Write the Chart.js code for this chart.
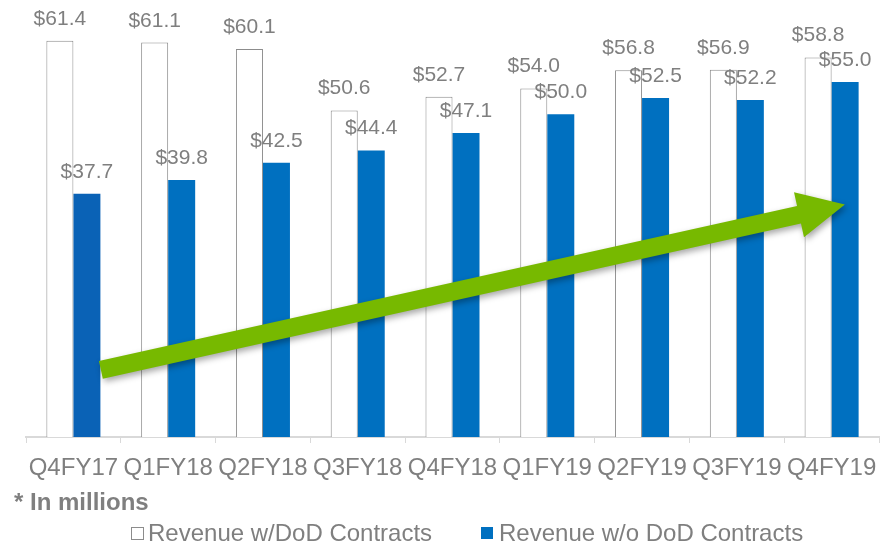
<!DOCTYPE html>
<html>
<head>
<meta charset="utf-8">
<script src="https://cdn.jsdelivr.net/npm/chart.js@4/dist/chart.umd.min.js"></script>
<style>
html,body{margin:0;padding:0;background:#fff;}
#wrap{position:relative;width:882px;height:547px;}
</style>
</head>
<body>
<div id="wrap"><canvas id="c"></canvas></div>
<script>
const categories = ['Q4FY17','Q1FY18','Q2FY18','Q3FY18','Q4FY18','Q1FY19','Q2FY19','Q3FY19','Q4FY19'];
const withDoD = [61.4, 61.1, 60.1, 50.6, 52.7, 54.0, 56.8, 56.9, 58.8];
const withoutDoD = [37.7, 39.8, 42.5, 44.4, 47.1, 50.0, 52.5, 52.2, 55.0];
const seriesNames = ['Revenue w/DoD Contracts', 'Revenue w/o DoD Contracts'];
const footnote = '* In millions';
// trend arrow in data units: [category index, value]
const arrowStart = [0.29, 10.4];
const arrowEnd = [8.14, 36.0];

const FONT = '"Liberation Sans", Arial, sans-serif';
const GRAY = '#7f7f7f';
const BLUE = '#0070c0';
const blueColors = withoutDoD.map((v, i) => i === 0 ? '#0a62b6' : BLUE);

const labelsPlugin = {
  id: 'valueLabels',
  afterDatasetsDraw(chart) {
    const ctx = chart.ctx;
    ctx.save();
    ctx.font = '21px ' + FONT;
    ctx.fillStyle = GRAY;
    ctx.textAlign = 'center';
    ctx.textBaseline = 'alphabetic';
    chart.data.datasets.forEach((ds, di) => {
      const meta = chart.getDatasetMeta(di);
      meta.data.forEach((bar, i) => {
        ctx.fillText('$' + ds.data[i].toFixed(1), bar.x, bar.y - 16);
      });
    });
    ctx.restore();
  }
};

const arrowPlugin = {
  id: 'trendArrow',
  afterDraw(chart) {
    const xs = chart.scales.x, ys = chart.scales.y;
    const x0 = xs.getPixelForValue(arrowStart[0]), y0 = ys.getPixelForValue(arrowStart[1]);
    const x1 = xs.getPixelForValue(arrowEnd[0]), y1 = ys.getPixelForValue(arrowEnd[1]);
    const dx = x1 - x0, dy = y1 - y0, len = Math.hypot(dx, dy);
    const ux = dx / len, uy = dy / len, nx = -uy, ny = ux;
    const shaftHalf = 9, headLen = 47, headHalf = 23;
    const bx = x1 - ux * headLen, by = y1 - uy * headLen;
    const ctx = chart.ctx;
    ctx.save();
    ctx.shadowColor = 'rgba(0,0,0,0.35)';
    ctx.shadowBlur = 6;
    ctx.shadowOffsetX = 2;
    ctx.shadowOffsetY = 3;
    ctx.fillStyle = '#77b900';
    ctx.beginPath();
    ctx.moveTo(x0 + nx * shaftHalf, y0 + ny * shaftHalf);
    ctx.lineTo(bx + nx * shaftHalf, by + ny * shaftHalf);
    ctx.lineTo(bx + nx * headHalf, by + ny * headHalf);
    ctx.lineTo(x1, y1);
    ctx.lineTo(bx - nx * headHalf, by - ny * headHalf);
    ctx.lineTo(bx - nx * shaftHalf, by - ny * shaftHalf);
    ctx.lineTo(x0 - nx * shaftHalf, y0 - ny * shaftHalf);
    ctx.closePath();
    ctx.fill();
    ctx.restore();
  }
};

const footerPlugin = {
  id: 'footer',
  afterDraw(chart) {
    const ctx = chart.ctx;
    ctx.save();
    ctx.fillStyle = GRAY;
    ctx.textBaseline = 'middle';
    ctx.textAlign = 'left';
    ctx.font = 'bold 24px ' + FONT;
    ctx.fillText(footnote, 14, 503);
    // legend
    ctx.font = '24px ' + FONT;
    const ly = 534;
    ctx.fillStyle = '#fff';
    ctx.fillRect(131.5, ly - 6.5, 12, 12);
    ctx.strokeStyle = '#8c8c8c';
    ctx.lineWidth = 1;
    ctx.strokeRect(131.5, ly - 6.5, 12, 12);
    ctx.fillStyle = GRAY;
    ctx.fillText(seriesNames[0], 148, ly);
    ctx.fillStyle = BLUE;
    ctx.fillRect(481, ly - 7, 12, 12);
    ctx.fillStyle = GRAY;
    ctx.fillText(seriesNames[1], 499, ly);
    ctx.restore();
  }
};

new Chart(document.getElementById('c'), {
  type: 'bar',
  data: {
    labels: categories,
    datasets: [
      { label: seriesNames[0], data: withDoD, backgroundColor: '#ffffff', borderColor: '#8c8c8c', borderWidth: 1,
        categoryPercentage: 0.57, barPercentage: 1.0 },
      { label: seriesNames[1], data: withoutDoD, backgroundColor: blueColors, borderWidth: 0,
        categoryPercentage: 0.57, barPercentage: 1.0 }
    ]
  },
  options: {
    responsive: true,
    maintainAspectRatio: false,
    animation: false,
    layout: { padding: { left: 26, right: 3, top: 0, bottom: 0 } },
    plugins: { legend: { display: false }, tooltip: { enabled: false } },
    scales: {
      y: { display: false, min: 0, max: 67.7 },
      x: {
        grid: { display: true, drawOnChartArea: false, drawTicks: true, tickLength: 6, color: '#d9d9d9', offset: true },
        border: { display: true, color: '#d9d9d9', width: 2 },
        ticks: { color: GRAY, font: { family: FONT, size: 24 }, padding: 11, maxRotation: 0, autoSkip: false },
        afterFit(scale) { scale.height = 110; scale.paddingLeft = 0; scale.paddingRight = 0; }
      }
    }
  },
  plugins: [labelsPlugin, arrowPlugin, footerPlugin]
});
</script>
</body>
</html>
